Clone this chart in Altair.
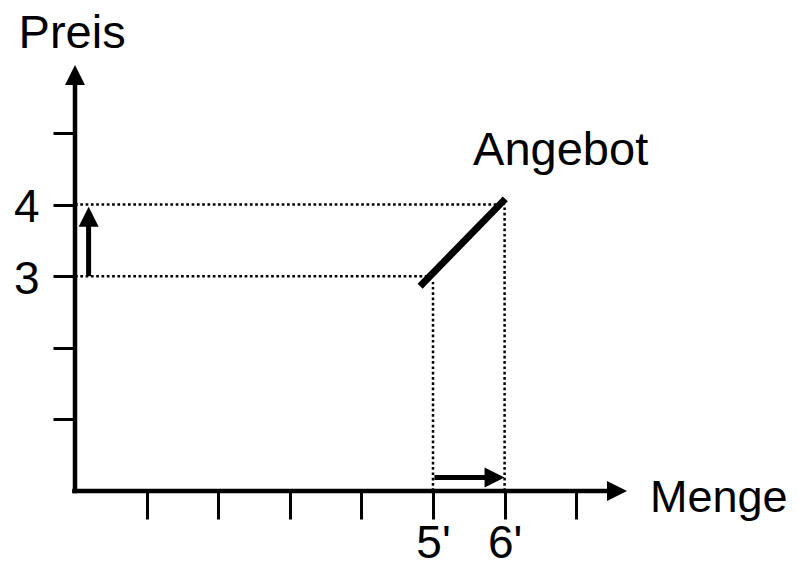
import altair as alt
import pandas as pd

FONT = "Liberation Sans"
PX = 71.6          # pixels per data unit (both axes)
W, H = 558, 430    # plot area

# ---- data -------------------------------------------------------------
x_ticks = [1, 2, 3, 4, 5, 6, 7]
x_tick_labels = {5: "5'", 6: "6'"}
y_ticks = [1, 2, 3, 4, 5]
y_tick_labels = {3: "3", 4: "4"}

# supply curve (Angebot)
supply_x = [4.82, 6.01]
supply_y = [2.86, 4.08]

# dotted guide lines
dot_x = [0, 0, 5, 6]
dot_x2 = [6, 5, 5, 6]
dot_y = [4, 3, 0, 0]
dot_y2 = [4, 3, 2.92, 4]

# main axes lines
ax_x = [-0.04, 0]
ax_x2 = [7.45, 0]
ax_y = [0, -0.03]
ax_y2 = [0, 5.7]

# small shift arrows: shafts
shaft_x = [0.19, 5.02]
shaft_x2 = [0.19, 5.75]
shaft_y = [3.0, 0.19]
shaft_y2 = [3.75, 0.19]

# arrow heads (centres)
head_up_x = [0, 0.19]
head_up_y = [5.81, 3.83]
head_right_x = [7.57, 5.86]
head_right_y = [0, 0.19]

labels_text = ["Preis", "Menge", "Angebot"]
labels_x = [-0.04, 8.03, 5.56]
labels_y = [6.19, -0.29, 4.55]
labels_align = ["center", "left", "left"]
labels_size = [47, 45, 47]

# ---- scales / axes ----------------------------------------------------
xs = alt.Scale(domain=[0, W / PX], nice=False, zero=False)
ys = alt.Scale(domain=[0, H / PX], nice=False, zero=False)


def expr_from(d):
    parts = ""
    for k, v in d.items():
        parts += f"datum.value == {k} ? \"{v}\" : "
    return parts + "''"


xaxis = alt.Axis(values=x_ticks, tickSize=28, tickWidth=3, tickColor="black",
                 domain=False, grid=False, labelExpr=expr_from(x_tick_labels),
                 labelFont=FONT, labelFontSize=46, labelColor="black",
                 labelBaseline="alphabetic", labelPadding=38, labelFlush=False,
                 labelOverlap=False, title=None)
yaxis = alt.Axis(values=y_ticks, tickSize=22, tickWidth=3, tickColor="black",
                 domain=False, grid=False, labelExpr=expr_from(y_tick_labels),
                 labelFont=FONT, labelFontSize=46, labelColor="black",
                 labelBaseline="alphabetic", labelOffset=17, labelPadding=14,
                 labelFlush=False, labelOverlap=False, title=None)


def X(f):
    return alt.X(f, type="quantitative", scale=xs, axis=xaxis)


def Y(f):
    return alt.Y(f, type="quantitative", scale=ys, axis=yaxis)


dotted = alt.Chart(pd.DataFrame({"x": dot_x, "x2": dot_x2, "y": dot_y, "y2": dot_y2})).mark_rule(
    color="black", strokeWidth=2.5, strokeDash=[2.7, 2.6]
).encode(x=X("x"), x2="x2", y=Y("y"), y2="y2")

axes = alt.Chart(pd.DataFrame({"x": ax_x, "x2": ax_x2, "y": ax_y, "y2": ax_y2})).mark_rule(
    color="black", strokeWidth=4.5
).encode(x=X("x"), x2="x2", y=Y("y"), y2="y2")

shafts = alt.Chart(pd.DataFrame({"x": shaft_x, "x2": shaft_x2, "y": shaft_y, "y2": shaft_y2})).mark_rule(
    color="black", strokeWidth=5
).encode(x=X("x"), x2="x2", y=Y("y"), y2="y2")

supply = alt.Chart(pd.DataFrame({"x": supply_x, "y": supply_y})).mark_line(
    color="black", strokeWidth=7
).encode(x=X("x"), y=Y("y"))

heads_up = alt.Chart(pd.DataFrame({"x": head_up_x, "y": head_up_y})).mark_point(
    shape="M0,-1L1,1L-1,1Z", filled=True, size=400, color="black", opacity=1, strokeWidth=0
).encode(x=X("x"), y=Y("y"))

heads_right = alt.Chart(pd.DataFrame({"x": head_right_x, "y": head_right_y})).mark_point(
    shape="M1,0L-1,-1L-1,1Z", filled=True, size=400, color="black", opacity=1, strokeWidth=0
).encode(x=X("x"), y=Y("y"))

text_layers = []
for i in range(len(labels_text)):
    text_layers.append(
        alt.Chart(pd.DataFrame({"x": [labels_x[i]], "y": [labels_y[i]], "t": [labels_text[i]]})).mark_text(
            font=FONT, fontSize=labels_size[i], color="black", align=labels_align[i], baseline="alphabetic"
        ).encode(x=X("x"), y=Y("y"), text="t:N")
    )

chart = alt.layer(dotted, axes, shafts, supply, heads_up, heads_right, *text_layers).properties(
    width=W, height=H,
    autosize=alt.AutoSizeParams(type="none"),
    padding={"left": 67, "top": 53, "right": 157, "bottom": 72},
    background="white",
).configure_view(stroke=None)

chart.save("out.html", embed_options={"renderer": "svg", "actions": False})
